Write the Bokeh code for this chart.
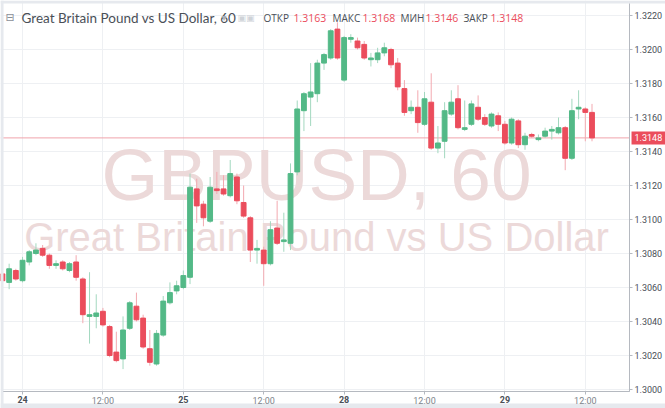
import pandas as pd
from bokeh.plotting import figure
from bokeh.models import (ColumnDataSource, Label, Span, BoxAnnotation, LinearAxis,
                          FixedTicker, PrintfTickFormatter)
from bokeh.embed import file_html
from bokeh.resources import INLINE

# hourly candles, hour 0 = 24th 00:00 (index axis, weekend collapsed)
hour = list(range(-3, 86))

open_ = [1.3068, 1.3063, 1.3070, 1.3064, 1.3075, 1.3080, 1.3083, 1.3079, 1.3073, 1.3075,
         1.3070, 1.3075, 1.3065, 1.3043, 1.3043, 1.3046, 1.3037, 1.3022, 1.3018, 1.3036,
         1.3049, 1.3042, 1.3024, 1.3015, 1.3032, 1.3051, 1.3058, 1.3060, 1.3066, 1.3118,
         1.3109, 1.3099, 1.3118, 1.3118, 1.3114, 1.3125, 1.3110, 1.3101, 1.3082, 1.3082,
         1.3074, 1.3095, 1.3087, 1.3086, 1.3128, 1.3164, 1.3172, 1.3174, 1.3192, 1.3195,
         1.3212, 1.3182, 1.3206, 1.3205, 1.3203, 1.3194, 1.3194, 1.3198, 1.3200, 1.3192,
         1.3177, 1.3164, 1.3166, 1.3156, 1.3169, 1.3142, 1.3146, 1.3162, 1.3171, 1.3153,
         1.3156, 1.3166, 1.3160, 1.3155, 1.3161, 1.3156, 1.3145, 1.3158, 1.3144, 1.3150,
         1.3147, 1.3149, 1.3152, 1.3151, 1.3154, 1.3136, 1.3165, 1.3165, 1.3163]

high = [1.3070, 1.3074, 1.3071, 1.3078, 1.3082, 1.3086, 1.3085, 1.3080, 1.3076, 1.3076,
        1.3075, 1.3079, 1.3066, 1.3069, 1.3056, 1.3048, 1.3038, 1.3034, 1.3043, 1.3052,
        1.3057, 1.3044, 1.3035, 1.3035, 1.3055, 1.3063, 1.3064, 1.3070, 1.3127, 1.3124,
        1.3111, 1.3125, 1.3128, 1.3126, 1.3135, 1.3127, 1.3120, 1.3102, 1.3088, 1.3084,
        1.3099, 1.3111, 1.3104, 1.3133, 1.3170, 1.3175, 1.3192, 1.3194, 1.3198, 1.3212,
        1.3216, 1.3208, 1.3209, 1.3207, 1.3205, 1.3198, 1.3201, 1.3204, 1.3201, 1.3195,
        1.3182, 1.3170, 1.3176, 1.3175, 1.3186, 1.3155, 1.3169, 1.3176, 1.3179, 1.3170,
        1.3170, 1.3173, 1.3162, 1.3163, 1.3163, 1.3158, 1.3160, 1.3159, 1.3151, 1.3151,
        1.3150, 1.3154, 1.3155, 1.3160, 1.3155, 1.3171, 1.3176, 1.3166, 1.3168]

low = [1.3062, 1.3059, 1.3064, 1.3063, 1.3073, 1.3079, 1.3078, 1.3071, 1.3071, 1.3070,
       1.3069, 1.3064, 1.3039, 1.3027, 1.3036, 1.3037, 1.3019, 1.3016, 1.3012, 1.3035,
       1.3040, 1.3024, 1.3014, 1.3014, 1.3031, 1.3050, 1.3056, 1.3059, 1.3062, 1.3098,
       1.3096, 1.3098, 1.3115, 1.3114, 1.3113, 1.3109, 1.3101, 1.3075, 1.3074, 1.3061,
       1.3073, 1.3085, 1.3081, 1.3082, 1.3126, 1.3152, 1.3155, 1.3169, 1.3188, 1.3194,
       1.3194, 1.3181, 1.3204, 1.3200, 1.3194, 1.3190, 1.3192, 1.3196, 1.3189, 1.3176,
       1.3161, 1.3162, 1.3151, 1.3155, 1.3141, 1.3139, 1.3136, 1.3161, 1.3153, 1.3152,
       1.3155, 1.3158, 1.3155, 1.3154, 1.3152, 1.3144, 1.3144, 1.3142, 1.3141, 1.3148,
       1.3146, 1.3148, 1.3147, 1.3150, 1.3129, 1.3135, 1.3159, 1.3146, 1.3146]

close = [1.3064, 1.3071, 1.3065, 1.3076, 1.3081, 1.3082, 1.3079, 1.3073, 1.3074, 1.3071,
         1.3074, 1.3066, 1.3044, 1.3044, 1.3045, 1.3038, 1.3020, 1.3017, 1.3035, 1.3051,
         1.3041, 1.3025, 1.3016, 1.3033, 1.3052, 1.3057, 1.3061, 1.3067, 1.3119, 1.3108,
         1.3101, 1.3119, 1.3117, 1.3115, 1.3127, 1.3111, 1.3102, 1.3082, 1.3083, 1.3074,
         1.3094, 1.3086, 1.3088, 1.3127, 1.3165, 1.3174, 1.3175, 1.3192, 1.3197, 1.3211,
         1.3195, 1.3207, 1.3207, 1.3201, 1.3195, 1.3195, 1.3198, 1.3201, 1.3191, 1.3178,
         1.3163, 1.3166, 1.3157, 1.3171, 1.3142, 1.3145, 1.3164, 1.3169, 1.3154, 1.3154,
         1.3168, 1.3159, 1.3156, 1.3162, 1.3156, 1.3145, 1.3159, 1.3144, 1.3149, 1.3149,
         1.3148, 1.3152, 1.3153, 1.3154, 1.3136, 1.3164, 1.3166, 1.3163, 1.3148]

price_ticks = [1.3000, 1.3020, 1.3040, 1.3060, 1.3080, 1.3100,
               1.3120, 1.3140, 1.3160, 1.3180, 1.3200, 1.3220]
time_ticks = [0, 12, 24, 36, 48, 60, 72, 84]
time_labels = ["24", "12:00", "25", "12:00", "28", "12:00", "29", "12:00"]

symbol = "GBPUSD, 60"
description = "Great Britain Pound vs US Dollar"

UP = "#53b987"
DOWN = "#eb4d5c"
UP_WICK = "#a3d8bf"
DOWN_WICK = "#f3a9b0"
TEXT = "#4a4f57"
BAND = "#e6e9ee"

df = pd.DataFrame(dict(hour=hour, open=open_, high=high, low=low, close=close))
rising = df["close"] >= df["open"]
df["body"] = [UP if r else DOWN for r in rising]
df["wick"] = [UP_WICK if r else DOWN_WICK for r in rising]
src = ColumnDataSource(df)

# the frame fills the figure; pane = candles area, scales drawn inside on the right / bottom
x0, x1 = -3.29, 95.97
y0, y1 = 1.298882, 1.322882
pane_left, pane_right = -2.836, 90.6
pane_bottom, pane_top = 1.299882, 1.322706
band_bottom = 1.299176

p = figure(width=665, height=408, x_range=(x0, x1), y_range=(y0, y1),
           y_axis_location="right", toolbar_location=None, tools="",
           output_backend="svg", min_border=0)
p.background_fill_color = "white"
p.outline_line_color = None

p.xgrid.ticker = time_ticks
p.ygrid.ticker = price_ticks
p.grid.grid_line_color = "#eef0f3"

# white strips under the scales (hide grid there), grey widget border
p.add_layout(BoxAnnotation(left=pane_right, fill_color="white", fill_alpha=1,
                           line_color=None, level="glyph"))
p.add_layout(BoxAnnotation(top=pane_bottom, fill_color="white", fill_alpha=1,
                           line_color=None, level="glyph"))
p.add_layout(BoxAnnotation(top=band_bottom, fill_color=BAND, fill_alpha=1,
                           line_color=None, level="glyph"))
p.add_layout(BoxAnnotation(bottom=pane_top, fill_color=BAND, fill_alpha=1,
                           line_color=None, level="glyph"))
p.add_layout(BoxAnnotation(right=pane_left, fill_color=BAND, fill_alpha=1,
                           line_color=None, level="glyph"))

# price scale
p.yaxis.fixed_location = pane_right
p.yaxis.bounds = (pane_bottom, pane_top)
p.yaxis.ticker = price_ticks
p.yaxis.formatter = PrintfTickFormatter(format="%.4f")

# time scale: days bold, 12:00 lighter
day_ticks = time_ticks[0::2]
half_ticks = time_ticks[1::2]
p.xaxis.fixed_location = pane_bottom
p.xaxis.bounds = (pane_left, pane_right)
p.xaxis.ticker = day_ticks
p.xaxis.major_label_overrides = dict(zip(day_ticks, time_labels[0::2]))
p.xaxis.major_label_text_font_style = "bold"
half_axis = LinearAxis(ticker=FixedTicker(ticks=half_ticks), fixed_location=pane_bottom,
                       bounds=(pane_left, pane_right),
                       major_label_overrides=dict(zip(half_ticks, time_labels[1::2])))
p.add_layout(half_axis, "below")

for ax in p.xaxis + p.yaxis:
    ax.axis_line_color = "#b5b9c0"
    ax.major_tick_line_color = "#b5b9c0"
    ax.major_tick_out = 3
    ax.major_tick_in = 0
    ax.minor_tick_line_color = None
    ax.major_label_text_font = "Roboto"
    ax.major_label_text_font_size = "9px"
    ax.major_label_text_color = TEXT
    ax.major_label_standoff = 2
half_axis.major_label_text_color = "#80858c"
p.xaxis.major_label_standoff = 1

# watermark (y = middle of the capitals)
xc = (pane_left + pane_right) / 2
p.add_layout(Label(x=xc, y=1.312647, text=symbol, text_align="center",
                   text_baseline="alphabetic", text_font="Liberation Sans",
                   text_font_size="73px", text_color="#ecd9d9", level="underlay"))
p.add_layout(Label(x=xc, y=1.308999, text=description, text_align="center",
                   text_baseline="alphabetic", text_font="Liberation Sans",
                   text_font_size="40px", text_color="#ecd9d9", level="underlay"))

# last price line
last = close[-1]
p.add_layout(Span(location=last, dimension="width", line_color="#f0a3ab",
                  line_width=1, level="underlay"))

# candles
p.segment(x0="hour", y0="high", x1="hour", y1="low", line_color="wick",
          line_width=1, source=src)
p.vbar(x="hour", width=0.72, top="open", bottom="close", fill_color="body",
       line_color="body", line_width=1, source=src)

# header legend
hy = 1.321882
def head(x, text, color, size="10.5px", font="Open Sans"):
    p.add_layout(Label(x=x, y=hy, text=text, text_color=color, text_font=font,
                       text_font_size=size, text_baseline="middle"))

head(-2.54, "\u229f", "#8a8f97", "11px", "DejaVu Sans")
head(-0.15, description + ", 60", TEXT, "13.5px", "Lato")
head(29.7, "\u25be", "#aeb2b8", "10px", "DejaVu Sans")
head(32.09, "\u25a3\u25a3", "#cfd3d8", "9px", "DejaVu Sans")
head(35.97, "ОТКР", TEXT, "10px")
head(40.45, f"{open_[-1]:.4f}", DOWN)
head(46.27, "МАКС", TEXT, "10px")
head(50.75, f"{high[-1]:.4f}", DOWN)
head(56.42, "МИН", TEXT, "10px")
head(60.15, f"{low[-1]:.4f}", DOWN)
head(65.82, "ЗАКР", TEXT, "10px")
head(69.85, f"{last:.4f}", DOWN)

# last price badge on the price scale
p.add_layout(Label(x=pane_right, y=last, text=f"{last:.4f}", x_offset=2,
                   text_baseline="middle", text_color="white", text_font="Roboto",
                   text_font_size="9px", background_fill_color=DOWN, padding=3))

open("out.html", "w").write(file_html(p, INLINE))
